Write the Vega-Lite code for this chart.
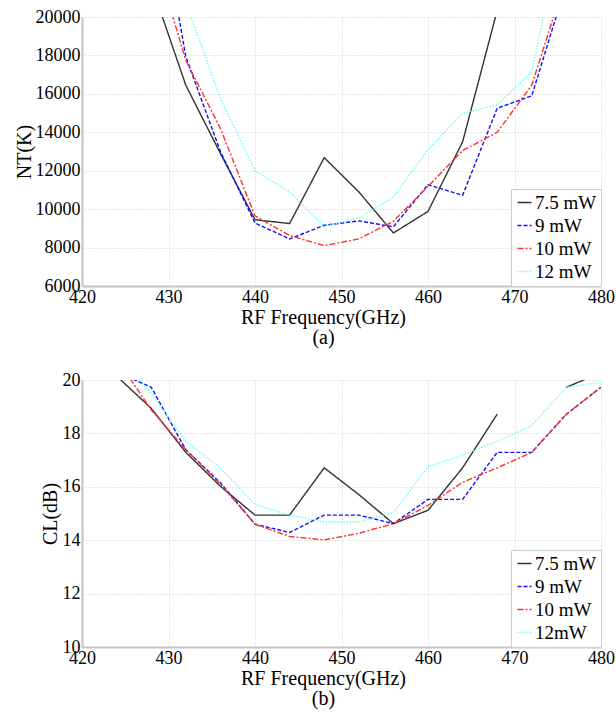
{
  "$schema": "https://vega.github.io/schema/vega-lite/v6.json",
  "background": "white",
  "padding": {"left": 14, "top": 8, "right": 2, "bottom": 4},
  "bounds": "flush",
  "spacing": 94,
  "config": {
    "font": "'Liberation Serif', 'Times New Roman', Times, serif",
    "view": {"stroke": null},
    "axis": {
      "labelFont": "'Liberation Serif', 'Times New Roman', Times, serif", "labelFontSize": 18, "labelColor": "black",
      "titleFont": "'Liberation Serif', 'Times New Roman', Times, serif", "titleFontSize": 20, "titleFontWeight": "normal", "titleColor": "black",
      "ticks": false, "domainColor": "#c4c4c4", "domainWidth": 2,
      "gridColor": "#cccccc", "gridDash": [1, 2], "gridWidth": 1,
      "labelPadding": 2, "labelOverlap": false, "labelFlush": false
    },
    "legend": {
      "orient": "bottom-right", "offset": 0, "fillColor": "white", "strokeColor": "#cccccc",
      "padding": 4, "labelFont": "'Liberation Serif', 'Times New Roman', Times, serif", "labelFontSize": 19, "labelColor": "black",
      "symbolType": "stroke", "symbolSize": 196, "symbolStrokeWidth": 1.5, "rowPadding": 3,
      "labelOffset": 1, "title": null
    }
  },
  "datasets": {
    "nt": [
      {"f": 428, "v": 21700, "s": "7.5 mW"}, {"f": 432, "v": 16450, "s": "7.5 mW"}, {"f": 436, "v": 12900, "s": "7.5 mW"},
      {"f": 440, "v": 9450, "s": "7.5 mW"}, {"f": 444, "v": 9250, "s": "7.5 mW"}, {"f": 448, "v": 12680, "s": "7.5 mW"},
      {"f": 452, "v": 10900, "s": "7.5 mW"}, {"f": 456, "v": 8760, "s": "7.5 mW"}, {"f": 460, "v": 9880, "s": "7.5 mW"},
      {"f": 464, "v": 13500, "s": "7.5 mW"}, {"f": 468, "v": 20340, "s": "7.5 mW"},
      {"f": 428, "v": 28300, "s": "9 mW"}, {"f": 432, "v": 17930, "s": "9 mW"}, {"f": 436, "v": 13000, "s": "9 mW"},
      {"f": 440, "v": 9280, "s": "9 mW"}, {"f": 444, "v": 8450, "s": "9 mW"}, {"f": 448, "v": 9160, "s": "9 mW"},
      {"f": 452, "v": 9390, "s": "9 mW"}, {"f": 456, "v": 9080, "s": "9 mW"}, {"f": 460, "v": 11270, "s": "9 mW"},
      {"f": 464, "v": 10720, "s": "9 mW"}, {"f": 468, "v": 15250, "s": "9 mW"}, {"f": 472, "v": 15900, "s": "9 mW"},
      {"f": 476, "v": 21750, "s": "9 mW"},
      {"f": 428, "v": 23750, "s": "10 mW"}, {"f": 432, "v": 17750, "s": "10 mW"}, {"f": 436, "v": 14200, "s": "10 mW"},
      {"f": 440, "v": 9650, "s": "10 mW"}, {"f": 444, "v": 8630, "s": "10 mW"}, {"f": 448, "v": 8100, "s": "10 mW"},
      {"f": 452, "v": 8450, "s": "10 mW"}, {"f": 456, "v": 9370, "s": "10 mW"}, {"f": 460, "v": 11180, "s": "10 mW"},
      {"f": 464, "v": 13050, "s": "10 mW"}, {"f": 468, "v": 14000, "s": "10 mW"}, {"f": 472, "v": 16450, "s": "10 mW"},
      {"f": 476, "v": 22100, "s": "10 mW"},
      {"f": 428, "v": 25000, "s": "12 mW"}, {"f": 432, "v": 20750, "s": "12 mW"}, {"f": 436, "v": 15770, "s": "12 mW"},
      {"f": 440, "v": 12000, "s": "12 mW"}, {"f": 444, "v": 10900, "s": "12 mW"}, {"f": 448, "v": 9100, "s": "12 mW"},
      {"f": 452, "v": 9540, "s": "12 mW"}, {"f": 456, "v": 10630, "s": "12 mW"}, {"f": 460, "v": 13090, "s": "12 mW"},
      {"f": 464, "v": 14990, "s": "12 mW"}, {"f": 468, "v": 15420, "s": "12 mW"}, {"f": 472, "v": 17150, "s": "12 mW"},
      {"f": 476, "v": 25700, "s": "12 mW"}
    ],
    "cl": [
      {"f": 424, "v": 20.15, "s": "7.5 mW"}, {"f": 428, "v": 18.94, "s": "7.5 mW"}, {"f": 432, "v": 17.29, "s": "7.5 mW"},
      {"f": 436, "v": 16.02, "s": "7.5 mW"}, {"f": 440, "v": 14.94, "s": "7.5 mW"}, {"f": 444, "v": 14.94, "s": "7.5 mW"},
      {"f": 448, "v": 16.71, "s": "7.5 mW"}, {"f": 452, "v": 15.71, "s": "7.5 mW"}, {"f": 456, "v": 14.62, "s": "7.5 mW"},
      {"f": 460, "v": 15.12, "s": "7.5 mW"}, {"f": 464, "v": 16.71, "s": "7.5 mW"}, {"f": 468, "v": 18.72, "s": "7.5 mW"},
      {"f": 472, "v": null, "s": "7.5 mW"}, {"f": 476, "v": 19.73, "s": "7.5 mW"}, {"f": 480, "v": 20.27, "s": "7.5 mW"},
      {"f": 424, "v": 20.3, "s": "9 mW"}, {"f": 428, "v": 19.73, "s": "9 mW"}, {"f": 432, "v": 17.39, "s": "9 mW"},
      {"f": 436, "v": 16.15, "s": "9 mW"}, {"f": 440, "v": 14.6, "s": "9 mW"}, {"f": 444, "v": 14.29, "s": "9 mW"},
      {"f": 448, "v": 14.94, "s": "9 mW"}, {"f": 452, "v": 14.94, "s": "9 mW"}, {"f": 456, "v": 14.62, "s": "9 mW"},
      {"f": 460, "v": 15.53, "s": "9 mW"}, {"f": 464, "v": 15.53, "s": "9 mW"}, {"f": 468, "v": 17.29, "s": "9 mW"},
      {"f": 472, "v": 17.29, "s": "9 mW"}, {"f": 476, "v": 18.72, "s": "9 mW"}, {"f": 480, "v": 19.73, "s": "9 mW"},
      {"f": 424, "v": 20.8, "s": "10 mW"}, {"f": 428, "v": 18.88, "s": "10 mW"}, {"f": 432, "v": 17.39, "s": "10 mW"},
      {"f": 436, "v": 16.1, "s": "10 mW"}, {"f": 440, "v": 14.6, "s": "10 mW"}, {"f": 444, "v": 14.14, "s": "10 mW"},
      {"f": 448, "v": 14.01, "s": "10 mW"}, {"f": 452, "v": 14.26, "s": "10 mW"}, {"f": 456, "v": 14.62, "s": "10 mW"},
      {"f": 460, "v": 15.3, "s": "10 mW"}, {"f": 464, "v": 16.17, "s": "10 mW"}, {"f": 468, "v": 16.71, "s": "10 mW"},
      {"f": 472, "v": 17.29, "s": "10 mW"}, {"f": 476, "v": 18.72, "s": "10 mW"}, {"f": 480, "v": 19.73, "s": "10 mW"},
      {"f": 424, "v": 21.0, "s": "12mW"}, {"f": 428, "v": 19.5, "s": "12mW"}, {"f": 432, "v": 17.7, "s": "12mW"},
      {"f": 436, "v": 16.71, "s": "12mW"}, {"f": 440, "v": 15.34, "s": "12mW"}, {"f": 444, "v": 14.94, "s": "12mW"},
      {"f": 448, "v": 14.68, "s": "12mW"}, {"f": 452, "v": 14.68, "s": "12mW"}, {"f": 456, "v": 15.03, "s": "12mW"},
      {"f": 460, "v": 16.75, "s": "12mW"}, {"f": 464, "v": 17.2, "s": "12mW"}, {"f": 468, "v": 17.7, "s": "12mW"},
      {"f": 472, "v": 18.29, "s": "12mW"}, {"f": 476, "v": 19.73, "s": "12mW"}, {"f": 480, "v": 19.91, "s": "12mW"}
    ]
  },
  "vconcat": [
    {
      "width": 519, "height": 269,
      "data": {"name": "nt"},
      "mark": {"type": "line", "clip": true, "strokeWidth": 1.4, "invalid": "break-paths-show-domains"},
      "encoding": {
        "x": {"field": "f", "type": "quantitative",
              "scale": {"domain": [420, 480], "nice": false, "zero": false},
              "axis": {"values": [420, 430, 440, 450, 460, 470, 480], "format": "d",
                       "title": ["RF Frequency(GHz)", "(a)"], "titleX": 241, "titleLineHeight": 20, "titlePadding": 1}},
        "y": {"field": "v", "type": "quantitative",
              "scale": {"domain": [6000, 20000], "nice": false, "zero": false},
              "axis": {"values": [6000, 8000, 10000, 12000, 14000, 16000, 18000, 20000], "format": "d",
                       "title": "NT(K)", "titlePadding": 1}},
        "color": {"field": "s", "type": "nominal",
                  "scale": {"domain": ["7.5 mW", "9 mW", "10 mW", "12 mW"], "range": ["#333333", "#1010ff", "#ff3030", "#66ffff"]}},
        "strokeDash": {"field": "s", "type": "nominal",
                  "scale": {"domain": ["7.5 mW", "9 mW", "10 mW", "12 mW"], "range": [[1, 0], [4, 2], [6, 2, 2, 2], [1.5, 1.5]]}}
      }
    },
    {
      "width": 519, "height": 267,
      "data": {"name": "cl"},
      "mark": {"type": "line", "clip": true, "strokeWidth": 1.4, "invalid": "break-paths-show-domains"},
      "encoding": {
        "x": {"field": "f", "type": "quantitative",
              "scale": {"domain": [420, 480], "nice": false, "zero": false},
              "axis": {"values": [420, 430, 440, 450, 460, 470, 480], "format": "d",
                       "title": ["RF Frequency(GHz)", "(b)"], "titleX": 241, "titleLineHeight": 20, "titlePadding": 1}},
        "y": {"field": "v", "type": "quantitative",
              "scale": {"domain": [10, 20], "nice": false, "zero": false},
              "axis": {"values": [10, 12, 14, 16, 18, 20], "format": "d",
                       "title": "CL(dB)", "titlePadding": 2}},
        "color": {"field": "s", "type": "nominal",
                  "scale": {"domain": ["7.5 mW", "9 mW", "10 mW", "12mW"], "range": ["#333333", "#1010ff", "#ff3030", "#66ffff"]}},
        "strokeDash": {"field": "s", "type": "nominal",
                  "scale": {"domain": ["7.5 mW", "9 mW", "10 mW", "12mW"], "range": [[1, 0], [4, 2], [6, 2, 2, 2], [1.5, 1.5]]}}
      }
    }
  ],
  "resolve": {"scale": {"color": "independent", "strokeDash": "independent", "x": "independent", "y": "independent"},
              "legend": {"color": "independent", "strokeDash": "independent"}}
}
